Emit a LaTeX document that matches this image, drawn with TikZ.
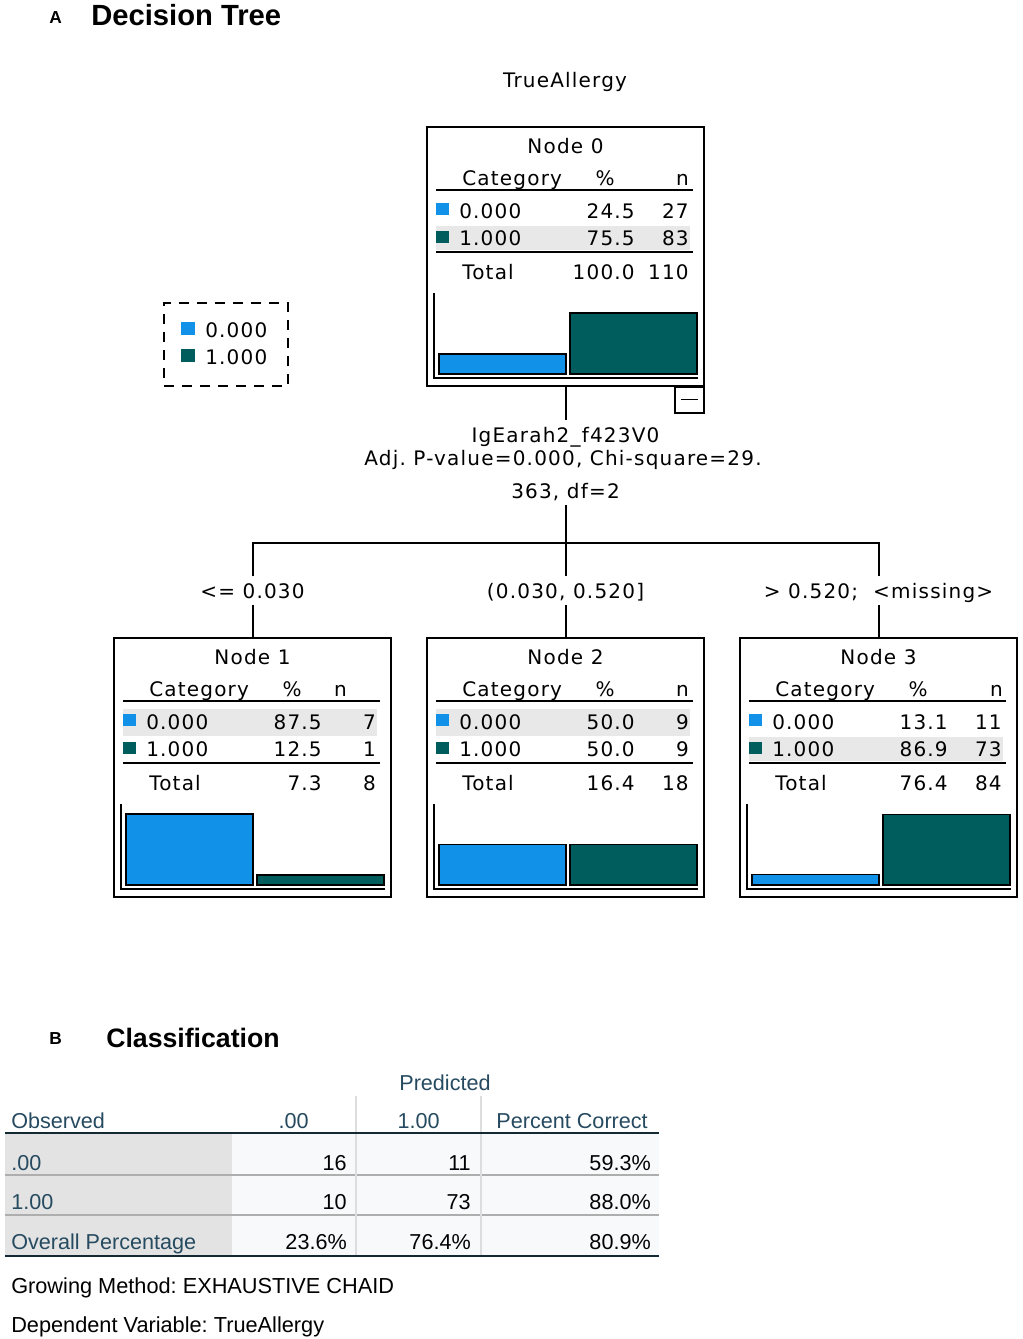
\documentclass[tikz,border=0pt]{standalone}
\usepackage{fontspec}
\setmainfont{Liberation Sans}
\newfontfamily\spssfont[LetterSpace=6]{DejaVu Sans}
\frenchspacing

\definecolor{spssblue}{HTML}{1192E8}
\definecolor{spssteal}{HTML}{005D5D}
\definecolor{rowgrey}{HTML}{E8E8E8}
\definecolor{tabnavy}{HTML}{264A60}
\definecolor{tabdark}{HTML}{152935}
\definecolor{tabhead}{HTML}{E3E3E3}
\definecolor{tabcell}{HTML}{F8F9FA}
\definecolor{tabrule}{HTML}{AEAEAE}
\definecolor{tabgridc}{HTML}{DDDDDD}
\definecolor{tabnum}{HTML}{010205}

\tikzset{
  treebox/.style={draw, line width=1.5pt, minimum width=207.75pt, minimum height=194.25pt, inner sep=0pt},
  togglebox/.style={draw, line width=1.5pt, minimum width=21.75pt, minimum height=19.5pt, inner sep=0pt},
  legendbox/.style={draw, line width=1.5pt, dash pattern=on 7.5pt off 6pt, minimum width=93pt, minimum height=62.25pt, inner sep=0pt},
  spss/.style={font=\spssfont\fontsize{15}{18}\selectfont, inner sep=0pt},
  splitlabel/.style={spss, anchor=base, text height=14pt, text depth=3pt, inner sep=2pt},
  hline/.style={line width=1.5pt},
  chartaxis/.style={line width=1.1pt},
  barbox/.style={draw, line width=1.1pt},
  branch/.style={line width=1.5pt},
  tabtext/.style={font=\fontsize{16.2}{19}\selectfont, text=tabnavy, inner sep=0pt},
  tabvalue/.style={font=\fontsize{16.2}{19}\selectfont, text=tabnum, inner sep=0pt, anchor=base east},
  tabframe/.style={draw=tabdark, line width=1.9pt},
  tabsep/.style={draw=tabrule, line width=1.3pt},
  tabgrid/.style={draw=tabgridc, line width=1.2pt}
}

% one tree node, drawn inside a scope shifted to its top left corner
% #1 name, #2 number, #3/#4 row 0.000, #5/#6 row 1.000, #7/#8 total, #9 x of the n header
\newcommand{\spssnode}[9]{%
  \node[treebox] (#1) at (138.5,129.5) {};
  \node[spss, anchor=base] (#1-title) at (138.5,26) {Node #2};
  \node[spss, anchor=base west] (#1-cat) at (35,58) {Category};
  \node[spss, anchor=base] (#1-pct) at (178,58) {\%};
  \node[spss, anchor=base east] (#1-n) at (#9,58) {n};
  \draw[hline] (9,63) -- (266,63);
  \fill[spssblue] (9,76) rectangle (22,88);
  \node[spss, anchor=base west] (#1-c0) at (32,91) {0.000};
  \node[spss, anchor=base east] (#1-p0) at (208,91) {#3};
  \node[spss, anchor=base east] (#1-n0) at (262,91) {#4};
  \fill[spssteal] (9,104) rectangle (22,116);
  \node[spss, anchor=base west] (#1-c1) at (32,118) {1.000};
  \node[spss, anchor=base east] (#1-p1) at (208,118) {#5};
  \node[spss, anchor=base east] (#1-n1) at (262,118) {#6};
  \draw[hline] (9,125) -- (266,125);
  \node[spss, anchor=base west] (#1-tot) at (35,152) {Total};
  \node[spss, anchor=base east] (#1-pt) at (208,152) {#7};
  \node[spss, anchor=base east] (#1-nt) at (262,152) {#8};
  \draw[chartaxis] (7,166) -- (7,251) -- (271,251);
  \draw[barbox, fill=spssblue] (12,247) rectangle (139,{247-0.81*#3});
  \draw[barbox, fill=spssteal] (143,247) rectangle (270,{247-0.81*#5});
}

\begin{document}
\begin{tikzpicture}[x=0.75pt,y=0.75pt,yscale=-1,xscale=1]
\path[use as bounding box] (0,0) rectangle (1022,1339);

%Titles
\node[anchor=base west, inner sep=0pt, font=\bfseries\fontsize{13}{15}\selectfont] (tagA) at (49,23) {A};
\node[anchor=base west, inner sep=0pt, font=\bfseries\fontsize{21.9}{26}\selectfont] (titleA) at (91,25) {Decision Tree};
\node[spss, anchor=base] (target) at (565,87) {TrueAllergy};

%Legend
\node[legendbox] (legend) at (226,344.5) {};
\fill[spssblue] (181,322) rectangle (195,335);
\node[spss, anchor=base west] (legend0) at (205,337) {0.000};
\fill[spssteal] (181,349) rectangle (195,362);
\node[spss, anchor=base west] (legend1) at (205,364) {1.000};

%Node 0
\begin{scope}[shift={(427,127)}]
  \fill[rowgrey] (9,99) rectangle (263,123);
  \spssnode{n0}{0}{24.5}{27}{75.5}{83}{100.0}{110}{262}
\end{scope}
\node[togglebox] (n0toggle) at (689.5,399.5) {};
\draw[line width=1.3pt] ([xshift=-6.4pt]n0toggle.center) -- ([xshift=6.4pt]n0toggle.center);

%Split
\node[splitlabel] (split1) at (565.5,442) {IgEarah2\_f423V0};
\node[splitlabel] (split2) at (563,465) {Adj. P-value=0.000, Chi-square=29.};
\node[splitlabel] (split3) at (565.5,498) {363, df=2};
\coordinate (fork) at (565.5,543);

%Node 1
\begin{scope}[shift={(114,638)}]
  \fill[rowgrey] (9,71) rectangle (263,98);
  \spssnode{n1}{1}{87.5}{7}{12.5}{1}{7.3}{8}{233}
\end{scope}
%Node 2
\begin{scope}[shift={(427,638)}]
  \fill[rowgrey] (9,71) rectangle (263,98);
  \spssnode{n2}{2}{50.0}{9}{50.0}{9}{16.4}{18}{262}
\end{scope}
%Node 3
\begin{scope}[shift={(740,638)}]
  \fill[rowgrey] (9,99) rectangle (263,123);
  \spssnode{n3}{3}{13.1}{11}{86.9}{73}{76.4}{84}{263}
\end{scope}

%Branch labels
\node[splitlabel] (lab1) at (252.5,598) {<= 0.030};
\node[splitlabel] (lab2) at (565.5,598) {(0.030, 0.520]};
\node[splitlabel] (lab3) at (878.5,598) {> 0.520;\ \ <missing>};

%Connectors
\draw[branch] (n0) -- (split1);
\draw[branch] (split3) -- (fork);
\draw[branch] (lab1) |- (fork);
\draw[branch] (lab3) |- (fork);
\draw[branch] (lab2) -- (fork);
\draw[branch] (lab1) -- (n1);
\draw[branch] (lab2) -- (n2);
\draw[branch] (lab3) -- (n3);

%Classification
\node[anchor=base west, inner sep=0pt, font=\bfseries\fontsize{13}{15}\selectfont] (tagB) at (49,1044) {B};
\node[anchor=base west, inner sep=0pt, font=\bfseries\fontsize{20}{24}\selectfont] (titleB) at (106,1047) {Classification};

\fill[tabhead] (5,1134) rectangle (232,1255);
\fill[tabcell] (232,1134) rectangle (659,1255);
\draw[tabsep] (5,1175) -- (659,1175);
\draw[tabsep] (5,1215) -- (659,1215);
\draw[tabgrid] (356,1096) -- (356,1255);
\draw[tabgrid] (481,1096) -- (481,1255);
\draw[tabframe] (5,1133) -- (659,1133);
\draw[tabframe] (5,1256) -- (659,1256);

\node[tabtext, anchor=base] (predicted) at (445,1090) {Predicted};
\node[tabtext, anchor=base west] (observed) at (11,1128) {Observed};
\node[tabtext, anchor=base east] (head0) at (309,1128) {.00};
\node[tabtext, anchor=base east] (head1) at (440,1128) {1.00};
\node[tabtext, anchor=base east] (headpc) at (648,1128) {Percent Correct};

\node[tabtext, anchor=base west] (row0) at (11,1170) {.00};
\node[tabvalue] (row0a) at (347,1170) {16};
\node[tabvalue] (row0b) at (471,1170) {11};
\node[tabvalue] (row0c) at (651,1170) {59.3\%};

\node[tabtext, anchor=base west] (row1) at (11,1209) {1.00};
\node[tabvalue] (row1a) at (347,1209) {10};
\node[tabvalue] (row1b) at (471,1209) {73};
\node[tabvalue] (row1c) at (651,1209) {88.0\%};

\node[tabtext, anchor=base west] (row2) at (11,1249) {Overall Percentage};
\node[tabvalue] (row2a) at (347,1249) {23.6\%};
\node[tabvalue] (row2b) at (471,1249) {76.4\%};
\node[tabvalue] (row2c) at (651,1249) {80.9\%};

%Footnotes
\node[anchor=base west, inner sep=0pt, font=\fontsize{16.3}{19}\selectfont] (method) at (11,1293) {Growing Method: EXHAUSTIVE CHAID};
\node[anchor=base west, inner sep=0pt, font=\fontsize{16.3}{19}\selectfont] (depvar) at (11,1332) {Dependent Variable: TrueAllergy};

\end{tikzpicture}
\end{document}
